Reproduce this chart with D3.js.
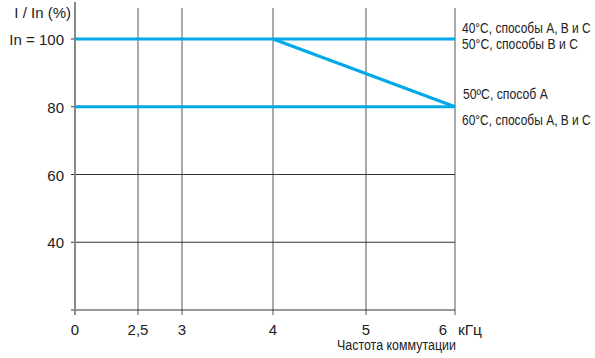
<!DOCTYPE html>
<html><head><meta charset="utf-8">
<script src="https://cdn.jsdelivr.net/npm/d3@7"></script>
<style>
body{margin:0;background:#fff;}
svg{display:block;}
</style>
</head><body>
<svg id="c" width="595" height="358"></svg>
<script>
// Data
const xTicks = [0, 2.5, 3, 4, 5, 6];
const xTickLabels = ["0", "2,5", "3", "4", "5", "6"];
const yTicks = [40, 60, 80, 100];
const yTickLabels = ["40", "60", "80", "In = 100"];
const line40 = [[0, 100], [6, 100]];
const line60 = [[0, 80], [6, 80]];
const line50A = [[4, 100], [6, 80]];
const seriesLabels = [
  "40°C, способы A, B и C",
  "50°C, способы B и C",
  "50ºC, способ A",
  "60°C, способы A, B и C"
];

const svg = d3.select("#c");
// the reference axis is not linear: ticks are evenly spaced except 0..3
const x = d3.scaleLinear().domain(xTicks).range([75, 138, 182, 273, 366, 455]);
const y = d3.scaleLinear().domain([20, 100]).range([310, 39]);
const font = "Liberation Sans, Arial, sans-serif";

// vertical grid
svg.append("g").selectAll("line").data(xTicks.filter(d => d > 0)).join("line")
  .attr("x1", d => x(d)).attr("x2", d => x(d))
  .attr("y1", 8).attr("y2", 315)
  .attr("stroke", "#555").attr("stroke-width", 1);
// horizontal grid
svg.append("g").selectAll("line").data([40, 60]).join("line")
  .attr("x1", 71).attr("x2", x(6))
  .attr("y1", d => y(d)).attr("y2", d => y(d))
  .attr("stroke", "#333").attr("stroke-width", 1);
// y ticks for 80/100
svg.append("g").selectAll("line").data([80, 100]).join("line")
  .attr("x1", 71).attr("x2", 75)
  .attr("y1", d => y(d)).attr("y2", d => y(d))
  .attr("stroke", "#333").attr("stroke-width", 1);
// x axis
svg.append("line").attr("x1", 71).attr("x2", x(6)).attr("y1", y(20)).attr("y2", y(20))
  .attr("stroke", "#333").attr("stroke-width", 1);
// y axis
svg.append("line").attr("x1", x(0)).attr("x2", x(0)).attr("y1", 2).attr("y2", 315)
  .attr("stroke", "#888").attr("stroke-width", 2);

// tick labels (last one sits left of its tick, leaving room for the unit)
svg.append("g").selectAll("text").data(xTicks).join("text")
  .attr("x", d => x(d) - (d === 6 ? 12 : 0)).attr("y", 335).attr("text-anchor", "middle")
  .attr("font-family", font).attr("font-size", 15).attr("fill", "#222")
  .text((d, i) => xTickLabels[i]);
svg.append("g").selectAll("text").data(yTicks).join("text")
  .attr("x", 64).attr("y", d => y(d) + 6).attr("text-anchor", "end")
  .attr("font-family", font).attr("font-size", 15).attr("fill", "#222")
  .text((d, i) => yTickLabels[i]);

svg.append("text").attr("x", 71).attr("y", 18).attr("text-anchor", "end")
  .attr("font-family", font).attr("font-size", 15).attr("fill", "#222").text("I / In (%)");

// condensed text helper: scale horizontally to a target width
function condensed(sel, x0, y0, w, size, txt) {
  const t = sel.append("text").attr("font-family", font).attr("font-size", size)
    .attr("fill", "#222").text(txt);
  const n = t.node().getComputedTextLength();
  t.attr("transform", `translate(${x0},${y0}) scale(${w / n},1)`);
  return t;
}
condensed(svg, 458, 335, 24, 15, "кГц");
condensed(svg, 337, 350, 119, 14, "Частота коммутации");

// series lines
const lg = d3.line().x(d => x(d[0])).y(d => y(d[1]));
[line40, line60, line50A].forEach(l => {
  svg.append("path").attr("d", lg(l)).attr("fill", "none")
    .attr("stroke", "#00a9e8").attr("stroke-width", 3);
});

// series labels
const labPos = [
  {x: 462, y: y(100) - 6, w: 129},
  {x: 462, y: y(100) + 10, w: 116},
  {x: 463, y: y(80) - 8, w: 85},
  {x: 462, y: y(80) + 18, w: 129}
];
const lab = svg.append("g");
seriesLabels.forEach((s, i) => condensed(lab, labPos[i].x, labPos[i].y, labPos[i].w, 14, s));
</script>
</body></html>
